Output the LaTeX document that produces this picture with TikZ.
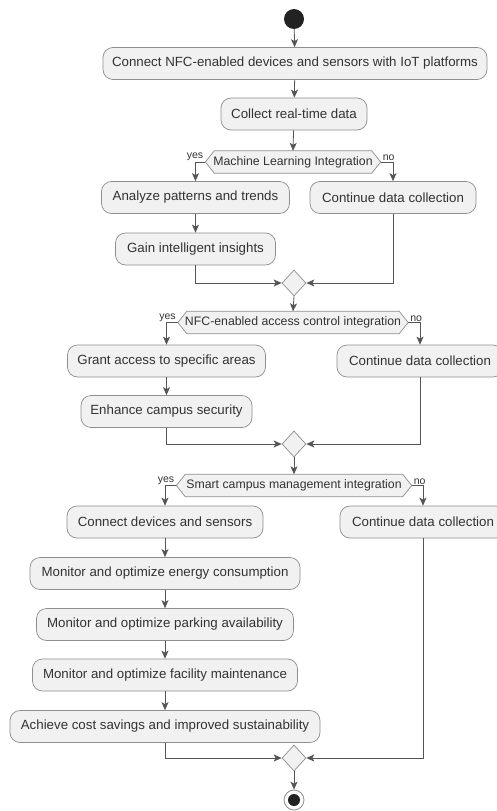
\documentclass[tikz,border=0pt]{standalone}
\usepackage{fontspec}
\setmainfont{Liberation Sans}
\usetikzlibrary{arrows.meta,shapes.geometric,backgrounds}
\definecolor{actfill}{HTML}{F1F1F1}
\definecolor{actline}{HTML}{8E8E8E}
\definecolor{flowline}{HTML}{555555}
\definecolor{labtext}{HTML}{333333}
\definecolor{dotfill}{HTML}{222222}

% hexagonal frame drawn behind a condition node
\newcommand\condframe[1]{%
  \begin{scope}[on background layer]
    \draw[hexa] (#1.west) -- ([xshift=9pt]#1.north west) -- ([xshift=-9pt]#1.north east)
      -- (#1.east) -- ([xshift=-9pt]#1.south east) -- ([xshift=9pt]#1.south west) -- cycle;
  \end{scope}}

\begin{document}
\begin{tikzpicture}[x=1pt,y=-1pt,
  act/.style={draw=actline, fill=actfill, rounded corners=10pt, minimum height=32pt,
    inner sep=0pt, text=labtext, font=\fontsize{13.3}{16}\selectfont, line width=0.7pt},
  cond/.style={minimum height=22pt, inner sep=0pt, text=labtext,
    font=\fontsize{12.3}{14}\selectfont},
  hexa/.style={draw=actline, fill=actfill, line width=0.7pt},
  merge/.style={diamond, draw=actline, fill=actfill, minimum width=24pt,
    minimum height=26pt, inner sep=0pt, line width=0.7pt},
  flow/.style={draw=flowline, line width=0.8pt,
    -{Stealth[length=8pt,width=7pt,inset=2pt]}},
  branch/.style={text=labtext, font=\fontsize{10.5}{12}\selectfont, inner sep=1pt},
]
\begin{scope}[on background layer]
  \fill[white] (0,0) rectangle (496,811);
\end{scope}
\useasboundingbox (0,0) rectangle (496,811);

% start
\node[circle, fill=dotfill, minimum size=20pt, inner sep=0pt] (start) at (294,19) {};
\node[act, minimum width=384pt] (iot) at (295,63.5)
  {Connect NFC-enabled devices and sensors with IoT platforms};
\node[act, minimum width=146pt] (collect) at (294,114) {Collect real-time data};

% machine learning branch
\node[cond, minimum width=175pt] (q1) at (293,162) {Machine Learning Integration};
\condframe{q1}
\node[branch, anchor=south east] (y1) at ([xshift=-1pt]q1.west) {yes};
\node[branch, anchor=south west] (n1) at ([xshift=1pt]q1.east) {no};
\node[act, minimum width=188pt] (analyze) at (195.5,197.5) {Analyze patterns and trends};
\node[act, minimum width=160pt] (gain) at (195.5,249) {Gain intelligent insights};
\node[act, minimum width=166pt] (cont1) at (393,197.5) {Continue data collection};
\node[merge] (m1) at (294,283) {};

% access control branch
\node[cond, minimum width=230pt] (q2) at (293,322.5) {NFC-enabled access control integration};
\condframe{q2}
\node[branch, anchor=south east] (y2) at ([xshift=-1pt]q2.west) {yes};
\node[branch, anchor=south west] (n2) at ([xshift=1pt]q2.east) {no};
\node[act, minimum width=198pt] (grant) at (166.5,361) {Grant access to specific areas};
\node[act, minimum width=171pt] (secure) at (166.5,411.5) {Enhance campus security};
\node[act, minimum width=166pt] (cont2) at (420,361) {Continue data collection};
\node[merge] (m2) at (294,444) {};

% smart campus branch
\node[cond, minimum width=235pt] (q3) at (294,485.5) {Smart campus management integration};
\condframe{q3}
\node[branch, anchor=south east] (y3) at ([xshift=-1pt]q3.west) {yes};
\node[branch, anchor=south west] (n3) at ([xshift=1pt]q3.east) {no};
\node[act, minimum width=196pt] (devices) at (165,522) {Connect devices and sensors};
\node[act, minimum width=270pt] (energy) at (165,573.5) {Monitor and optimize energy consumption};
\node[act, minimum width=257pt] (parking) at (165,624.5) {Monitor and optimize parking availability};
\node[act, minimum width=265pt] (facility) at (165,675) {Monitor and optimize facility maintenance};
\node[act, minimum width=310pt] (achieve) at (165,726.5) {Achieve cost savings and improved sustainability};
\node[act, minimum width=166pt] (cont3) at (423,522) {Continue data collection};
\node[merge] (m3) at (294,758) {};

% end
\node[circle, draw=actline, fill=white, minimum size=20pt, inner sep=0pt, line width=0.8pt] (stop) at (294,800) {};
\node[circle, fill=dotfill, minimum size=12pt, inner sep=0pt] (stopdot) at (294,800) {};

% connectors
\draw[flow] (start) -- (iot);
\draw[flow] (iot) -- (collect);
\draw[flow] (collect) -- (q1.north);
\draw[flow] (q1.west) -| (analyze.north);
\draw[flow] (q1.east) -| (cont1.north);
\draw[flow] (analyze) -- (gain);
\draw[flow] (gain.south) |- (m1.west);
\draw[flow] (cont1.south) |- (m1.east);
\draw[flow] (m1.south) -- (q2.north);
\draw[flow] (q2.west) -| (grant.north);
\draw[flow] (q2.east) -| (cont2.north);
\draw[flow] (grant) -- (secure);
\draw[flow] (secure.south) |- (m2.west);
\draw[flow] (cont2.south) |- (m2.east);
\draw[flow] (m2.south) -- (q3.north);
\draw[flow] (q3.west) -| (devices.north);
\draw[flow] (q3.east) -| (cont3.north);
\draw[flow] (devices) -- (energy);
\draw[flow] (energy) -- (parking);
\draw[flow] (parking) -- (facility);
\draw[flow] (facility) -- (achieve);
\draw[flow] (achieve.south) |- (m3.west);
\draw[flow] (cont3.south) |- (m3.east);
\draw[flow] (m3.south) -- (stop.north);
\end{tikzpicture}
\end{document}
